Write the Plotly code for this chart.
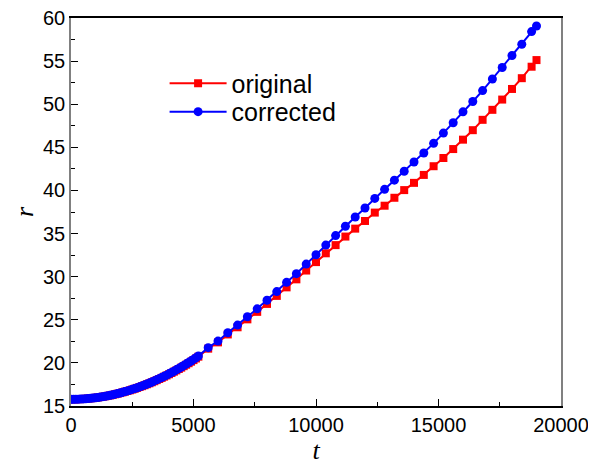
import plotly.graph_objects as go

# time values: dense sampling early, then every 400
t_dense = [0, 100, 200, 300, 400, 500, 600, 700, 800, 900, 1000, 1100, 1200, 1300, 1400,
           1500, 1600, 1700, 1800, 1900, 2000, 2100, 2200, 2300, 2400, 2500, 2600, 2700,
           2800, 2900, 3000, 3100, 3200, 3300, 3400, 3500, 3600, 3700, 3800, 3900, 4000,
           4100, 4200, 4300, 4400, 4500, 4600, 4700, 4800, 4900, 5000, 5100, 5200]
t_sparse = [5600, 6000, 6400, 6800, 7200, 7600, 8000, 8400, 8800, 9200, 9600, 10000,
            10400, 10800, 11200, 11600, 12000, 12400, 12800, 13200, 13600, 14000, 14400,
            14800, 15200, 15600, 16000, 16400, 16800, 17200, 17600, 18000, 18400, 18800, 19000]

r_corrected_dense = [15.77, 15.77, 15.78, 15.79, 15.80, 15.82, 15.84, 15.86, 15.89, 15.92,
                     15.96, 15.99, 16.04, 16.08, 16.13, 16.19, 16.24, 16.30, 16.37, 16.44,
                     16.51, 16.59, 16.67, 16.75, 16.84, 16.93, 17.02, 17.12, 17.22, 17.33,
                     17.44, 17.55, 17.66, 17.78, 17.91, 18.04, 18.17, 18.30, 18.44, 18.58,
                     18.73, 18.88, 19.03, 19.19, 19.35, 19.52, 19.69, 19.86, 20.04, 20.22,
                     20.40, 20.60, 20.80]
r_corrected_sparse = [21.77, 22.53, 23.50, 24.38, 25.35, 26.27, 27.26, 28.27, 29.34, 30.35,
                      31.46, 32.54, 33.66, 34.76, 35.85, 36.92, 37.96, 39.08, 40.13, 41.19,
                      42.23, 43.30, 44.34, 45.46, 46.65, 47.85, 49.12, 50.31, 51.58, 52.93,
                      54.26, 55.65, 56.96, 58.42, 59.07]

r_original_dense = [15.77, 15.77, 15.78, 15.79, 15.80, 15.82, 15.84, 15.86, 15.89, 15.92,
                    15.96, 15.99, 16.04, 16.08, 16.13, 16.18, 16.23, 16.29, 16.36, 16.43,
                    16.50, 16.58, 16.66, 16.74, 16.82, 16.91, 17.00, 17.10, 17.20, 17.30,
                    17.41, 17.52, 17.63, 17.75, 17.87, 18.00, 18.13, 18.26, 18.40, 18.54,
                    18.68, 18.83, 18.98, 19.13, 19.29, 19.45, 19.62, 19.79, 19.96, 20.14,
                    20.32, 20.51, 20.72]
r_original_sparse = [21.65, 22.38, 23.30, 24.13, 25.05, 25.92, 26.84, 27.77, 28.76, 29.69,
                     30.71, 31.69, 32.71, 33.66, 34.65, 35.57, 36.46, 37.43, 38.23, 39.15,
                     40.04, 40.88, 41.80, 42.81, 43.76, 44.80, 45.89, 46.99, 48.19, 49.35,
                     50.54, 51.77, 53.02, 54.35, 55.12]

t_all = t_dense + t_sparse
r_original = r_original_dense + r_original_sparse
r_corrected = r_corrected_dense + r_corrected_sparse

x_ticks = [0, 5000, 10000, 15000, 20000]
y_ticks = [15, 20, 25, 30, 35, 40, 45, 50, 55, 60]

fig = go.Figure()
fig.add_trace(go.Scatter(
    x=t_all, y=r_original, mode="lines+markers", name="original", legend="legend",
    line=dict(color="#ff0000", width=2),
    marker=dict(symbol="square", size=8, color="#ff0000"),
))
fig.add_trace(go.Scatter(
    x=t_all, y=r_corrected, mode="lines+markers", name="corrected", legend="legend2",
    line=dict(color="#0000ff", width=2),
    marker=dict(symbol="circle", size=9, color="#0000ff"),
))

tick_font = dict(family="Liberation Sans, Arial, sans-serif", size=20, color="black")
leg_font = dict(family="Liberation Sans, Arial, sans-serif", size=25, color="black")

fig.update_layout(
    width=588, height=460,
    margin=dict(l=63, r=35, t=9.5, b=62),
    paper_bgcolor="white", plot_bgcolor="white",
    showlegend=True,
    legend=dict(
        x=0.191, y=0.831, xanchor="left", yanchor="middle",
        font=leg_font, itemwidth=57,
        bgcolor="rgba(0,0,0,0)",
    ),
    legend2=dict(
        x=0.191, y=0.758, xanchor="left", yanchor="middle",
        font=leg_font, itemwidth=57,
        bgcolor="rgba(0,0,0,0)",
    ),
    xaxis=dict(
        range=[0, 20000], tickvals=x_ticks, ticktext=[str(v) for v in x_ticks],
        ticks="inside", ticklen=7, tickwidth=1, tickcolor="black",
        minor=dict(ticks="inside", ticklen=4, tickcolor="black", dtick=2500, showgrid=False),
        showline=True, linecolor="black", linewidth=1.5, mirror=True,
        showgrid=False, zeroline=False, tickfont=tick_font, automargin=False,
        ticklabeloverflow="allow",
        title=dict(text="<i>t</i>", font=dict(family="Liberation Serif, Times New Roman, serif",
                                               size=26, color="black"), standoff=0),
    ),
    yaxis=dict(
        range=[15, 60], tickvals=y_ticks, ticktext=[str(v) for v in y_ticks],
        ticks="inside", ticklen=7, tickwidth=1, tickcolor="black",
        minor=dict(ticks="inside", ticklen=4, tickcolor="black", dtick=2.5, showgrid=False),
        showline=True, linecolor="#808080", linewidth=1.5, mirror=True,
        showgrid=False, zeroline=False, tickfont=tick_font, automargin=False,
        ticklabeloverflow="allow",
        title=dict(text="<i>r</i>", font=dict(family="Liberation Serif, Times New Roman, serif",
                                               size=26, color="black"), standoff=2),
    ),
)

fig.write_html("out.html")
